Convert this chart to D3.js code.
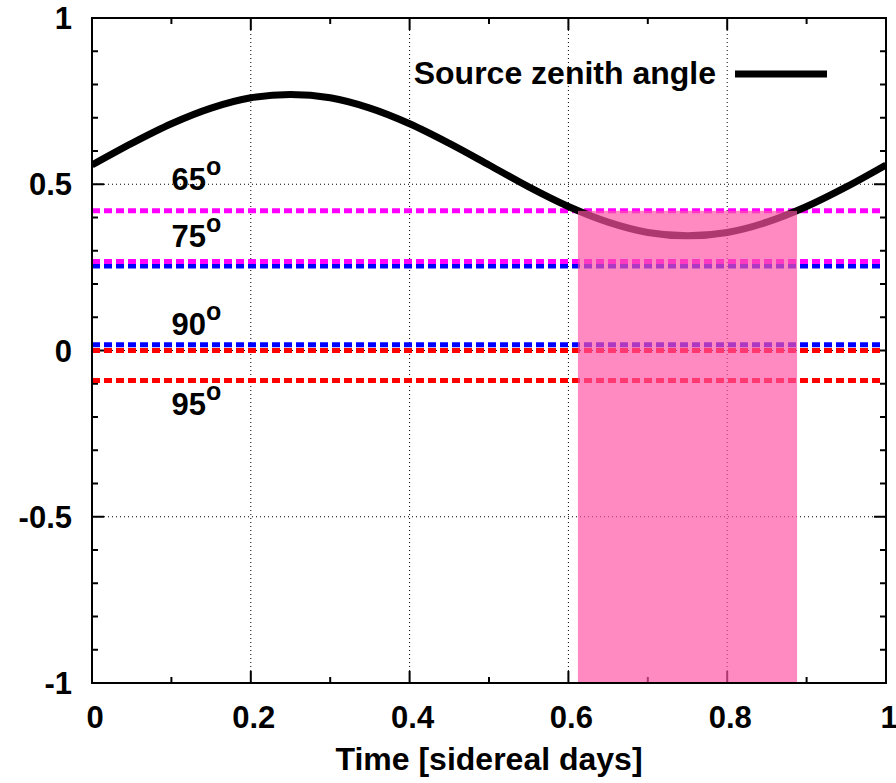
<!DOCTYPE html>
<html>
<head>
<meta charset="utf-8">
<script src="https://cdn.jsdelivr.net/npm/d3@7"></script>
<style>
  body { margin: 0; background: #fff; }
  text { font-family: "Liberation Sans", Arial, sans-serif; font-weight: bold; fill: #000; }
</style>
</head>
<body>
<svg id="chart" width="896" height="783"></svg>
<script>
// source zenith curve (cos of zenith angle)
const timeDays = [0, 0.05, 0.1, 0.15, 0.2, 0.25, 0.3, 0.35, 0.4, 0.45, 0.5,
  0.55, 0.6, 0.65, 0.7, 0.75, 0.8, 0.85, 0.9, 0.95, 1];
const cosZenith = [0.558, 0.623, 0.682, 0.729, 0.760, 0.770, 0.760, 0.729, 0.682, 0.623, 0.558,
  0.492, 0.433, 0.386, 0.355, 0.345, 0.355, 0.386, 0.433, 0.492, 0.558];

// horizontal threshold lines
const levelValues = [0.42, 0.268, 0.254, 0.017, 0.0, -0.09];
const levelColors = ['#ff00ff', '#ff00ff', '#0000ff', '#0000ff', '#ff0000', '#ff0000'];
const drawOrder = [0, 2, 1, 3, 4, 5];

// angle labels
const angleLabels = ['65', '75', '90', '95'];
const angleLabelValues = [0.482, 0.31, 0.048, -0.193];

// visibility window (shaded)
const windowStart = 0.612;
const windowEnd = 0.888;
const windowTop = 0.42;

const xTicks = [0, 0.2, 0.4, 0.6, 0.8, 1];
const yTicks = [-1, -0.5, 0, 0.5, 1];

const svg = d3.select('#chart');
const margin = { left: 92, right: 10, top: 18, bottom: 100 };
const width = 896;
const height = 783;

const x = d3.scaleLinear().domain([0, 1]).range([margin.left, width - margin.right]);
const y = d3.scaleLinear().domain([-1, 1]).range([height - margin.bottom, margin.top]);

svg.append('defs').append('clipPath').attr('id', 'plot-clip')
  .append('rect')
  .attr('x', x(0)).attr('y', y(1))
  .attr('width', x(1) - x(0)).attr('height', y(-1) - y(1));

// grid
const grid = svg.append('g').attr('class', 'grid');
grid.selectAll('line.gx')
  .data(xTicks.slice(1, -1))
  .enter()
  .append('line')
  .attr('x1', d => x(d)).attr('x2', d => x(d))
  .attr('y1', y(-1)).attr('y2', y(1))
  .attr('stroke', '#000').attr('stroke-width', 1).attr('stroke-dasharray', '1,3');
grid.selectAll('line.gy')
  .data(yTicks.slice(1, -1))
  .enter()
  .append('line')
  .attr('y1', d => y(d)).attr('y2', d => y(d))
  .attr('x1', x(0)).attr('x2', x(1))
  .attr('stroke', '#000').attr('stroke-width', 1).attr('stroke-dasharray', '1,3');

// inward ticks on all four sides
const axisG = svg.append('g').attr('class', 'ticks');
const xMinor = d3.range(0, 11).map(i => i / 10);
const yMinor = d3.range(0, 21).map(i => -1 + i / 10);
const isMajorX = d => Math.abs(d * 5 - Math.round(d * 5)) < 1e-6;
const isMajorY = d => Math.abs(d * 2 - Math.round(d * 2)) < 1e-6;

[y(-1), y(1)].forEach((yy, k) => {
  axisG.selectAll(null)
    .data(xMinor)
    .enter()
    .append('line')
    .attr('x1', d => x(d)).attr('x2', d => x(d))
    .attr('y1', yy)
    .attr('y2', d => yy + (k === 0 ? -1 : 1) * (isMajorX(d) ? 12 : 6))
    .attr('stroke', '#000').attr('stroke-width', 2);
});
[x(0), x(1)].forEach((xx, k) => {
  axisG.selectAll(null)
    .data(yMinor)
    .enter()
    .append('line')
    .attr('y1', d => y(d)).attr('y2', d => y(d))
    .attr('x1', xx)
    .attr('x2', d => xx + (k === 0 ? 1 : -1) * (isMajorY(d) ? 12 : 6))
    .attr('stroke', '#000').attr('stroke-width', 2);
});

// threshold lines
const plot = svg.append('g').attr('clip-path', 'url(#plot-clip)');
plot.selectAll('line.level')
  .data(drawOrder)
  .enter()
  .append('line')
  .attr('class', 'level')
  .attr('x1', x(0)).attr('x2', x(0.994))
  .attr('y1', i => y(levelValues[i])).attr('y2', i => y(levelValues[i]))
  .attr('stroke', i => levelColors[i])
  .attr('stroke-width', 5)
  .attr('stroke-dasharray', '8,4');

// curve
const line = d3.line()
  .x((d, i) => x(timeDays[i]))
  .y(d => y(d))
  .curve(d3.curveCatmullRom);
plot.append('path')
  .datum(cosZenith)
  .attr('d', line)
  .attr('fill', 'none')
  .attr('stroke', '#000')
  .attr('stroke-width', 7);

// shaded window
plot.append('rect')
  .attr('x', x(windowStart))
  .attr('y', y(windowTop))
  .attr('width', x(windowEnd) - x(windowStart))
  .attr('height', y(-1) - y(windowTop))
  .attr('fill', 'rgb(255,82,165)')
  .attr('fill-opacity', 0.68);

// border
svg.append('rect')
  .attr('x', x(0)).attr('y', y(1))
  .attr('width', x(1) - x(0)).attr('height', y(-1) - y(1))
  .attr('fill', 'none').attr('stroke', '#000').attr('stroke-width', 2);

// tick labels
svg.append('g').selectAll('text')
  .data(xTicks)
  .enter()
  .append('text')
  .attr('x', d => x(d) + 3)
  .attr('y', y(-1) + 45)
  .attr('text-anchor', 'middle')
  .attr('font-size', 31)
  .text(d => String(d));

svg.append('g').selectAll('text')
  .data(yTicks)
  .enter()
  .append('text')
  .attr('x', x(0) - 20)
  .attr('y', d => y(d) + 11)
  .attr('text-anchor', 'end')
  .attr('font-size', 31)
  .text(d => String(d));

// axis title
svg.append('text')
  .attr('x', (x(0) + x(1)) / 2)
  .attr('y', 770)
  .attr('text-anchor', 'middle')
  .attr('font-size', 32)
  .text('Time [sidereal days]');

// angle labels with superscript o
const labels = svg.append('g');
angleLabels.forEach((lab, i) => {
  const t = labels.append('text')
    .attr('x', x(0.1))
    .attr('y', y(angleLabelValues[i]))
    .attr('font-size', 31);
  t.append('tspan').text(lab);
  t.append('tspan').attr('font-size', 25).attr('dy', -15).text('o');
});

// legend
svg.append('text')
  .attr('x', 716)
  .attr('y', 84)
  .attr('text-anchor', 'end')
  .attr('font-size', 32)
  .text('Source zenith angle');
svg.append('line')
  .attr('x1', 735).attr('x2', 827)
  .attr('y1', 74).attr('y2', 74)
  .attr('stroke', '#000').attr('stroke-width', 7);
</script>
</body>
</html>
